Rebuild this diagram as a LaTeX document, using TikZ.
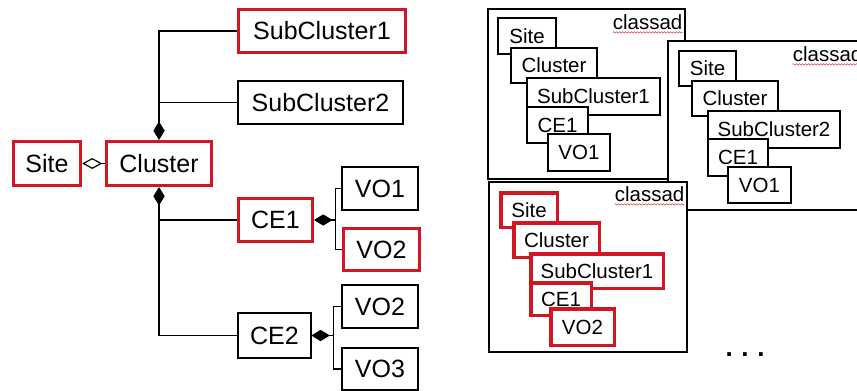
\documentclass[tikz,border=0pt]{standalone}
\usepackage{fontspec}
\setmainfont{Liberation Sans}
\usetikzlibrary{arrows.meta}
\usetikzlibrary{decorations.pathmorphing}

\definecolor{selred}{RGB}{208,22,32}
\newcommand{\bigtxt}{\fontsize{25}{30}\selectfont}
\newcommand{\adtxt}{\fontsize{20.5}{24}\selectfont}

\tikzset{
	umlbox/.style={draw=black, line width=1.2pt, fill=white, inner sep=0pt, font=\bigtxt},
	adbox/.style={draw=black, line width=1.2pt, fill=white, inner sep=0pt, font=\adtxt},
	hot/.style={draw=selred, line width=3.5pt},
	link/.style={line width=1.2pt},
	comp/.style={link, {Diamond[length=18pt,width=11pt]}-},
	aggr/.style={link, {Diamond[open,length=20pt,width=11pt]}-},
	adlabel/.style={font=\adtxt, inner sep=0pt, anchor=base east},
	squig/.style={selred!80, line width=0.6pt, decorate,
		decoration={snake, amplitude=0.7pt, segment length=3pt}}
}

\begin{document}
\begin{tikzpicture}[x=1pt, y=-1pt]
	\useasboundingbox (0,0) rectangle (857,391);
	\clip (0,0) rectangle (857,391);

	% left: the tree
	\node[umlbox, hot, minimum width=167pt, minimum height=43pt] at (322, 31) (sc1) {SubCluster1};
	\node[umlbox, minimum width=165pt, minimum height=43pt] at (320.5, 102.5) (sc2) {SubCluster2};
	\node[umlbox, hot, minimum width=67pt, minimum height=44pt] at (47, 163.5) (site) {Site};
	\node[umlbox, hot, minimum width=105pt, minimum height=44pt] at (159, 163.5) (cluster) {Cluster};
	\node[umlbox, hot, minimum width=74pt, minimum height=43pt] at (275.5, 220) (ce1) {CE1};
	\node[umlbox, minimum width=73pt, minimum height=45pt] at (274.5, 335.5) (ce2) {CE2};

	\node[umlbox, minimum width=76pt, minimum height=43pt] at (380, 188.5) (vo1) {VO1};
	\node[umlbox, hot, minimum width=76pt, minimum height=42pt] at (381.5, 249.5) (vo2a) {VO2};
	\node[umlbox, minimum width=76pt, minimum height=43pt] at (380, 306.5) (vo2b) {VO2};
	\node[umlbox, minimum width=76pt, minimum height=42pt] at (380, 369) (vo3) {VO3};

	\draw[aggr] (site.east) -- (cluster.west);
	\draw[comp] (cluster.north) |- (sc1.west);
	\draw[comp] (cluster.north) |- (sc2.west);
	\draw[comp] (cluster.south) |- (ce1.west);
	\draw[comp] (cluster.south) |- (ce2.west);

	\draw[comp] (ce1.east) -- ++(21,0) |- (vo1.west);
	\draw[comp] (ce1.east) -- ++(21,0) |- (vo2a.west);
	\draw[comp] (ce2.east) -- ++(22,0) |- (vo2b.west);
	\draw[comp] (ce2.east) -- ++(22,0) |- (vo3.west);

	% right: the classads
	\node[adbox, minimum width=197pt, minimum height=170pt] at (586.5, 94) (ad1) {};
	\node[adlabel] at ([xshift=-3pt, yshift=-21pt]ad1.north east) (lab1) {classad};
	\draw[squig] ([yshift=-3pt]lab1.base west) -- ([yshift=-3pt]lab1.base east);
	\node[adbox, minimum width=58pt, minimum height=36pt] at (527, 36) (a1site) {Site};
	\node[adbox, minimum width=86pt, minimum height=35pt] at (554, 65.5) (a1cl) {Cluster};
	\node[adbox, minimum width=133pt, minimum height=37pt] at (593.5, 96.5) (a1sc) {SubCluster1};
	\node[adbox, minimum width=61pt, minimum height=36pt] at (557.5, 125) (a1ce) {CE1};
	\node[adbox, minimum width=62pt, minimum height=37pt] at (579, 152.5) (a1vo) {VO1};

	\node[adbox, minimum width=197pt, minimum height=169pt] at (766.5, 125.5) (ad2) {};
	\node[adlabel] at ([xshift=-3pt, yshift=-21pt]ad2.north east) (lab2) {classad};
	\draw[squig] ([yshift=-3pt]lab2.base west) -- ([yshift=-3pt]lab2.base east);
	\node[adbox, minimum width=57pt, minimum height=35pt] at (707.5, 68.5) (a2site) {Site};
	\node[adbox, minimum width=86pt, minimum height=35pt] at (735, 98.5) (a2cl) {Cluster};
	\node[adbox, minimum width=132pt, minimum height=37pt] at (774, 129.5) (a2sc) {SubCluster2};
	\node[adbox, minimum width=60pt, minimum height=37pt] at (738, 157.5) (a2ce) {CE1};
	\node[adbox, minimum width=63pt, minimum height=36pt] at (759.5, 185) (a2vo) {VO1};

	\node[adbox, minimum width=198pt, minimum height=170pt] at (588, 267) (ad3) {};
	\node[adlabel] at ([xshift=-3pt, yshift=-20pt]ad3.north east) (lab3) {classad};
	\draw[squig] ([yshift=-3pt]lab3.base west) -- ([yshift=-3pt]lab3.base east);
	\node[adbox, hot, minimum width=56.5pt, minimum height=34.5pt] at (529, 210) (a3site) {Site};
	\node[adbox, hot, minimum width=85.5pt, minimum height=34.5pt] at (556.5, 240) (a3cl) {Cluster};
	\node[adbox, hot, minimum width=132.5pt, minimum height=34.5pt] at (597, 271) (a3sc) {SubCluster1};
	\node[adbox, hot, minimum width=60.5pt, minimum height=32.5pt] at (561, 299) (a3ce) {CE1};
	\node[adbox, hot, minimum width=63.5pt, minimum height=36.5pt] at (582.5, 327) (a3vo) {VO2};

	\node[font=\fontsize{26}{30}\selectfont\bfseries, inner sep=0pt, anchor=base] at (745, 356) (more) {.\,\,.\,\,.};
\end{tikzpicture}
\end{document}
